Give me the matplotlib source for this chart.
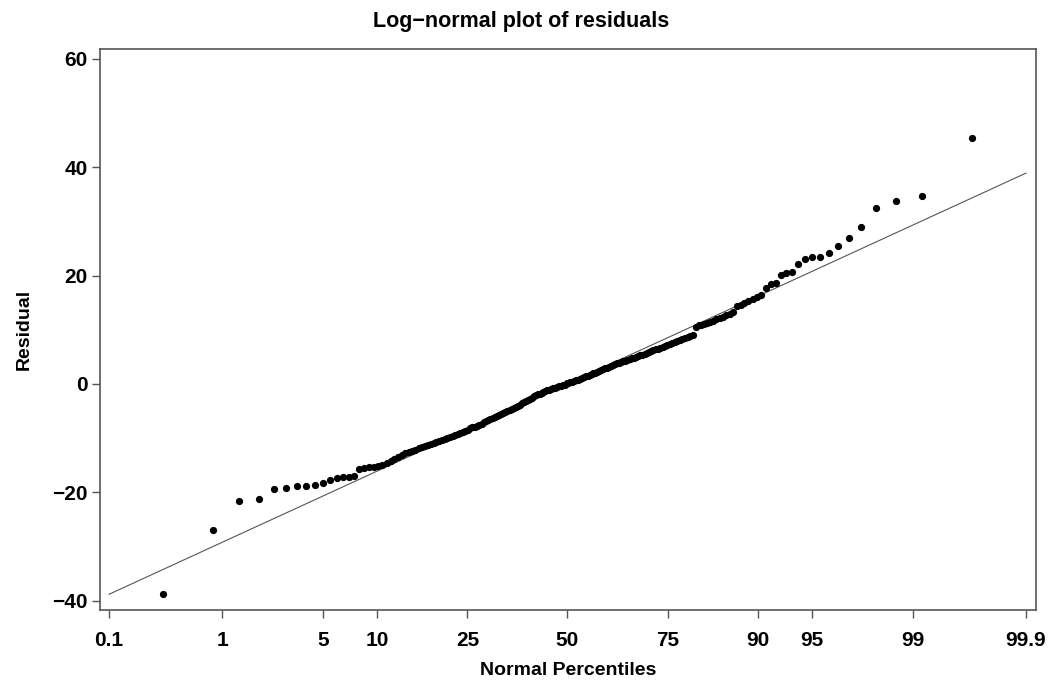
from statistics import NormalDist
import numpy as np
from matplotlib import pyplot as plt

# sorted residuals (n = 194)
residuals = [
    -38.7, -26.9, -21.5, -21.2, -19.3, -19.1, -18.8, -18.8, -18.7, -18.2,
    -17.7, -17.3, -17.1, -17.1, -17.0, -15.6, -15.5, -15.4, -15.3, -15.2,
    -15.0, -14.6, -14.2, -13.8, -13.4, -13.1, -12.8, -12.6, -12.3, -12.1,
    -11.9, -11.7, -11.5, -11.3, -11.1, -10.9, -10.7, -10.6, -10.4, -10.2,
    -10.0, -9.8, -9.6, -9.5, -9.3, -9.1, -8.9, -8.7, -8.4, -8.2,
    -8.0, -7.9, -7.7, -7.5, -7.3, -7.1, -6.9, -6.7, -6.5, -6.3,
    -6.1, -5.9, -5.7, -5.6, -5.4, -5.2, -5.0, -4.8, -4.6, -4.4,
    -4.2, -4.0, -3.8, -3.5, -3.3, -3.1, -2.9, -2.7, -2.5, -2.3,
    -2.1, -1.9, -1.8, -1.6, -1.4, -1.3, -1.2, -1.1, -0.9, -0.8,
    -0.7, -0.6, -0.4, -0.3, -0.2, -0.1, 0.1, 0.2, 0.3, 0.4,
    0.5, 0.7, 0.8, 1.0, 1.1, 1.2, 1.4, 1.5, 1.7, 1.8,
    2.0, 2.1, 2.3, 2.4, 2.6, 2.7, 2.9, 3.0, 3.2, 3.3,
    3.5, 3.6, 3.8, 3.9, 4.1, 4.2, 4.3, 4.5, 4.6, 4.7,
    4.8, 5.0, 5.1, 5.3, 5.4, 5.6, 5.7, 5.9, 6.0, 6.2,
    6.4, 6.5, 6.7, 6.8, 7.0, 7.2, 7.4, 7.5, 7.7, 7.9,
    8.1, 8.3, 8.5, 8.7, 8.9, 9.1, 10.6, 10.8, 10.9, 11.1,
    11.3, 11.5, 11.7, 12.0, 12.2, 12.4, 12.7, 13.0, 13.2, 14.3,
    14.6, 15.0, 15.3, 15.6, 16.0, 16.5, 17.7, 18.4, 18.6, 20.1,
    20.5, 20.7, 22.2, 23.1, 23.4, 23.5, 24.2, 25.5, 27.0, 29.0,
    32.5, 33.8, 34.7, 45.4,
]

# reference line end points (at 0.1 and 99.9 percent)
line_pct = [0.1, 99.9]
line_res = [-38.8, 38.9]

pct_ticks = [0.1, 1, 5, 10, 25, 50, 75, 90, 95, 99, 99.9]
pct_labels = ["0.1", "1", "5", "10", "25", "50", "75", "90", "95", "99", "99.9"]
res_ticks = [-40, -20, 0, 20, 40, 60]

nd = NormalDist()
_inv = np.vectorize(lambda v: nd.inv_cdf(v / 100.0), otypes=[float])
_cdf = np.vectorize(lambda v: nd.cdf(v) * 100.0, otypes=[float])


def pct_to_z(p):
    p = np.clip(np.asarray(p, dtype=float), 1e-6, 100 - 1e-6)
    return _inv(p)


def z_to_pct(z):
    return _cdf(np.asarray(z, dtype=float))


# Blom plotting positions
n = len(residuals)
ranks = np.arange(1, n + 1)
percentiles = (ranks - 0.375) / (n + 0.25) * 100

fonts = ["Liberation Sans", "DejaVu Sans"]

fig = plt.figure(figsize=(10.48, 6.83), dpi=100)
ax = fig.add_axes([100 / 1048, 1 - 610 / 683, 936 / 1048, 561 / 683])
ax.set_xscale("function", functions=(pct_to_z, z_to_pct))

ax.plot(line_pct, line_res, color="#555555", lw=0.8)
ax.plot(percentiles, residuals, "o", color="black", ms=4.2, mec="black")

ax.set_xlim(float(z_to_pct(-3.151)), float(z_to_pct(3.158)))
ax.set_ylim(-41.7, 61.8)

ax.set_xticks(pct_ticks)
ax.set_xticklabels(pct_labels, family=fonts, fontweight="bold", fontsize=15)
ax.xaxis.set_minor_locator(plt.NullLocator())
ax.set_yticks(res_ticks)
ax.set_yticklabels([f"{v}".replace("-", "\u2212") for v in res_ticks],
                   family=fonts, fontweight="bold", fontsize=15)

ax.tick_params(axis="both", direction="out", length=6, width=1, color="#555555")
ax.tick_params(axis="x", pad=9)
ax.tick_params(axis="y", pad=3)
for s in ax.spines.values():
    s.set_color("#555555")
    s.set_linewidth(1.2)

ax.set_xlabel("Normal Percentiles", family=fonts, fontweight="bold",
              fontsize=14, labelpad=9)
ax.set_ylabel("Residual", family=fonts, fontweight="bold", fontsize=14,
              labelpad=14)
fig.text(0.497, 1 - 21 / 683, "Log\u2212normal plot of residuals", family=fonts,
         fontweight="bold", fontsize=15.5, ha="center", va="center")

fig.savefig("out.png", dpi=100, facecolor="white")
